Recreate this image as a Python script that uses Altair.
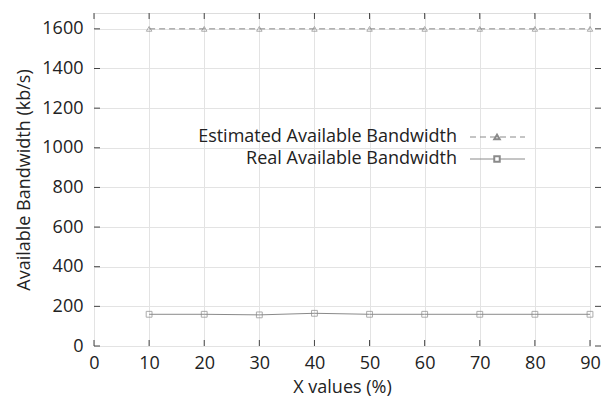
import altair as alt
import pandas as pd

x_vals = [10, 20, 30, 40, 50, 60, 70, 80, 90]
estimated = [1600, 1600, 1600, 1600, 1600, 1600, 1600, 1600, 1600]
real = [160, 160, 157, 165, 160, 160, 160, 160, 160]
x_ticks = [0, 10, 20, 30, 40, 50, 60, 70, 80, 90]
y_ticks = [0, 200, 400, 600, 800, 1000, 1200, 1400, 1600]
series_names = ["Estimated Available Bandwidth", "Real Available Bandwidth"]

W, H = 507, 333
FONT = "Open Sans"
FS = 18
GRAY = "#8a8a8a"

df = pd.DataFrame({
    "x": x_vals * 2,
    "y": estimated + real,
    "series": [series_names[0]] * len(x_vals) + [series_names[1]] * len(x_vals),
})

xs = alt.Scale(domain=[0, 90], nice=False, zero=False)
ys = alt.Scale(domain=[0, 1680], nice=False)

xax = alt.Axis(values=x_ticks, title="X values (%)", grid=True, gridColor="#e3e3e3",
               ticks=False, domain=False, labelPadding=8, labelFontSize=FS,
               titleFontSize=FS, labelFont=FONT, titleFont=FONT, labelColor="#222",
               titleColor="#222", titleFontWeight="normal", titlePadding=6, labelFlush=False,
               format="d")
yax = alt.Axis(values=y_ticks, title="Available Bandwidth (kb/s)", grid=True, gridColor="#e3e3e3",
               ticks=False, domain=False, labelPadding=11, labelFontSize=FS,
               titleFontSize=FS, labelFont=FONT, titleFont=FONT, labelColor="#222",
               titleColor="#222", titleFontWeight="normal", titlePadding=8, format="d")

base = alt.Chart(df)
est = base.transform_filter(alt.datum.series == series_names[0])
rea = base.transform_filter(alt.datum.series == series_names[1])

est_line = est.mark_line(color=GRAY, strokeDash=[6, 4], strokeWidth=1).encode(
    x=alt.X("x:Q", scale=xs, axis=xax), y=alt.Y("y:Q", scale=ys, axis=yax))
est_pts = est.mark_point(shape="triangle-up", size=30, color=GRAY, filled=False, strokeWidth=1).encode(
    x=alt.X("x:Q", scale=xs), y=alt.Y("y:Q", scale=ys))
real_line = rea.mark_line(color=GRAY, strokeWidth=1).encode(
    x=alt.X("x:Q", scale=xs), y=alt.Y("y:Q", scale=ys))
real_pts = rea.mark_point(shape="square", size=34, color=GRAY, filled=False, strokeWidth=1).encode(
    x=alt.X("x:Q", scale=xs), y=alt.Y("y:Q", scale=ys))

xt = pd.DataFrame({"t": x_ticks})
yt = pd.DataFrame({"t": y_ticks})
TK = "#444"
xtick_b = alt.Chart(xt).mark_rule(color=TK, strokeWidth=1).encode(
    x=alt.X("t:Q", scale=xs), y=alt.value(H), y2=alt.value(H - 6))
xtick_t = alt.Chart(xt).mark_rule(color=TK, strokeWidth=1).encode(
    x=alt.X("t:Q", scale=xs), y=alt.value(0), y2=alt.value(6))
ytick_l = alt.Chart(yt).mark_rule(color=TK, strokeWidth=1).encode(
    y=alt.Y("t:Q", scale=ys), x=alt.value(0), x2=alt.value(6))
ytick_r = alt.Chart(yt).mark_rule(color=TK, strokeWidth=1).encode(
    y=alt.Y("t:Q", scale=ys), x=alt.value(W), x2=alt.value(W - 6))

leg = pd.DataFrame({"name": series_names, "row": [0, 1]})
LX, LY0, DY = 363, 124, 22
LX1, LX2, LXM = 376, 431, 403

def leg_item(i, dash, shape):
    y = LY0 + i * DY
    d = alt.Chart(leg).transform_filter(alt.datum.row == i)
    text = d.mark_text(align="right", baseline="middle", fontSize=FS, font=FONT,
                       color="#222").encode(text="name:N", x=alt.value(LX), y=alt.value(y))
    line_kw = dict(color=GRAY, strokeWidth=1)
    if dash:
        line_kw["strokeDash"] = [6, 4]
    line = d.mark_rule(**line_kw).encode(x=alt.value(LX1), x2=alt.value(LX2), y=alt.value(y))
    pt = d.mark_point(shape=shape, size=30, color=GRAY, filled=False, fill="white",
                      fillOpacity=1).encode(x=alt.value(LXM), y=alt.value(y))
    return [text, line, pt]

chart = alt.layer(
    est_line, real_line, est_pts, real_pts,
    xtick_b, xtick_t, ytick_l, ytick_r,
    *leg_item(0, True, "triangle-up"), *leg_item(1, False, "square"),
).properties(
    width=613, height=411,
    autosize=alt.AutoSizeParams(type="fit", contains="padding"),
    padding={"left": 15, "top": 12, "right": 12, "bottom": 15},
).configure_view(stroke="#555", strokeWidth=1.5).configure(background="white")

chart.save("out.html", embed_options={"renderer": "svg", "actions": False})
